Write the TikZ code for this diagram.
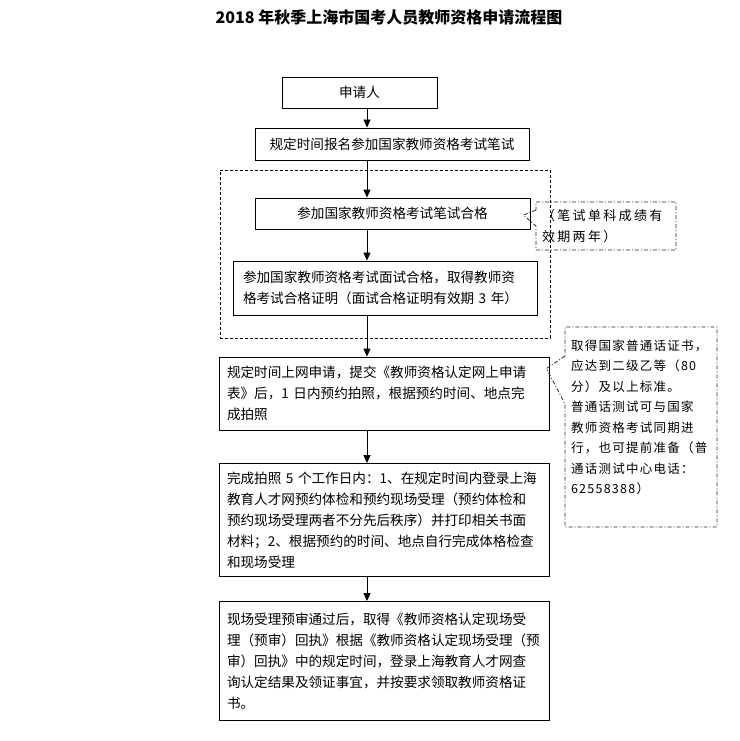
\documentclass[tikz,border=0pt]{standalone}
\usepackage{fontspec}
\setmainfont{Noto Sans CJK SC}
\usepackage{tikz}
\usetikzlibrary{arrows.meta,positioning,shapes.callouts}

\begin{document}
\begin{tikzpicture}[x=1pt, y=-1pt, every node/.style={font=\fontsize{13.6}{21}\selectfont},
  stepbox/.style={draw, line width=0.9pt, inner sep=0pt, align=center},
  textbox/.style={draw, line width=0.9pt, inner xsep=8pt, inner ysep=0pt, align=left},
  group/.style={draw, dashed, dash pattern=on 3pt off 2pt, line width=0.8pt},
  notebox/.style={rectangle callout, draw=black!85, line width=0.8pt, dash pattern=on 4pt off 2pt on 1pt off 2pt,
    inner xsep=6pt, inner ysep=0pt, align=left},
  flow/.style={line width=0.9pt, -{Triangle[length=8pt,width=7pt]}}]
\useasboundingbox (0,0) rectangle (739,741);
\coordinate (spine) at (367,0);

\node (title) at (389,17) {\fontsize{16}{16}\selectfont\bfseries 2018 年秋季上海市国考人员教师资格申请流程图};

\node[stepbox, minimum width=155pt, minimum height=31pt] (apply) at (359.5,92.5) {申请人};
\node[stepbox, minimum width=274pt, minimum height=32pt] (signup) at (392,144) {规定时间报名参加国家教师资格考试笔试};
\node[group, minimum width=330pt, minimum height=168pt] (exam) at (385,254) {};
\node[stepbox, minimum width=275pt, minimum height=31pt] (written) at (392.5,213.5) {参加国家教师资格考试笔试合格};
\node[textbox, text width=284pt, minimum height=54pt, inner xsep=10pt] (interview) at (385,288)
  {参加国家教师资格考试面试合格，取得教师资\\格考试合格证明（面试合格证明有效期 3 年）};
\node[textbox, text width=314pt, minimum height=73pt] (online) at (384,393.5)
  {规定时间上网申请，提交《教师资格认定网上申请\\表》后，1 日内预约拍照，根据预约时间、地点完\\成拍照};
\node[textbox, text width=314pt, minimum height=113pt] (photo) at (384,520)
  {完成拍照 5 个工作日内：1、在规定时间内登录上海\\教育人才网预约体检和预约现场受理（预约体检和\\预约现场受理两者不分先后秩序）并打印相关书面\\材料；2、根据预约的时间、地点自行完成体格检查\\和现场受理};
\node[textbox, text width=314pt, minimum height=119pt] (result) at (384,661)
  {现场受理预审通过后，取得《教师资格认定现场受\\理（预审）回执》根据《教师资格认定现场受理（预\\审）回执》中的规定时间，登录上海教育人才网查\\询认定结果及领证事宜，并按要求领取教师资格证\\书。};

\coordinate (tipa) at ([xshift=-7pt,yshift=-1.5pt]written.east);
\coordinate (tipb) at ([xshift=-3pt,yshift=-12pt]online.north east);
\node[notebox, text width=128pt, minimum height=48pt, callout absolute pointer={(tipa)}, callout pointer width=16pt,
  font=\fontsize{13}{21}\selectfont\addfontfeature{LetterSpace=18}] (note1) at (606,226)
  {（笔试单科成绩有\\效期两年）};
\node[notebox, text width=140pt, minimum height=200pt, callout absolute pointer={(tipb)}, callout pointer width=48pt,
  font=\fontsize{12.5}{20.5}\selectfont\addfontfeature{LetterSpace=10}] (note2) at (641,427)
  {取得国家普通话证书，\\应达到二级乙等（80\\分）及以上标准。\\普通话测试可与国家\\教师资格考试同期进\\行，也可提前准备（普\\通话测试中心电话：\\62558388）\\ \mbox{}};

\draw[flow] (apply.south -| spine) -- (signup.north -| spine);
\draw[flow] (signup.south -| spine) -- (written.north -| spine);
\draw[flow] (written.south -| spine) -- (interview.north -| spine);
\draw[flow] (interview.south -| spine) -- (online.north -| spine);
\draw[flow] (online.south -| spine) -- (photo.north -| spine);
\draw[flow] (photo.south -| spine) -- (result.north -| spine);
\end{tikzpicture}
\end{document}
